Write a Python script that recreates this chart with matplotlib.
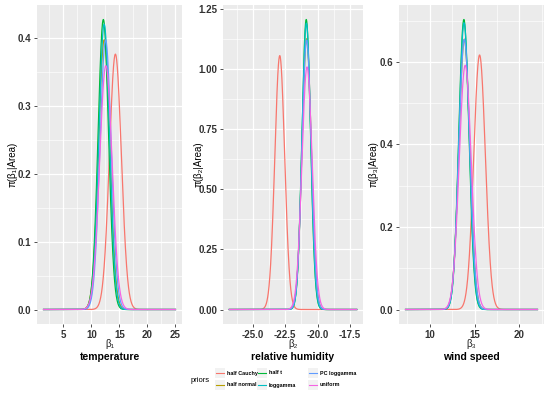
import numpy as np
import matplotlib
matplotlib.use("Agg")
import matplotlib.pyplot as plt
from matplotlib.lines import Line2D
from matplotlib.ticker import MultipleLocator, FormatStrFormatter

priors = ["half Cauchy", "half normal", "half t", "loggamma", "PC loggamma", "uniform"]
colors = ["#F8766D", "#B79F00", "#00BA38", "#00BFC4", "#619CFF", "#F564E3"]

# panel 1: temperature
p1_range = [1.5, 25.0]
p1_mode = [14.3, 12.3, 12.15, 12.3, 12.55, 12.6]
p1_peak = [0.376, 0.397, 0.427, 0.420, 0.397, 0.359]
# panel 2: relative humidity
p2_range = [-26.8, -17.0]
p2_mode = [-22.92, -20.85, -20.88, -20.87, -20.85, -20.82]
p2_peak = [1.055, 1.125, 1.205, 1.19, 1.12, 1.008]
# panel 3: wind speed
p3_range = [7.3, 22.0]
p3_mode = [15.55, 13.85, 13.8, 13.82, 13.85, 13.95]
p3_peak = [0.617, 0.655, 0.703, 0.695, 0.655, 0.592]

titles = ["temperature", "relative humidity", "wind speed"]
xsyms = ["β₁", "β₂", "β₃"]
ylabs = ["π(β₁|Area)", "π(β₂|Area)", "π(β₃|Area)"]

plt.rcParams['font.family'] = ['Liberation Sans', 'DejaVu Sans']

fig = plt.figure(figsize=(5.5, 3.95), dpi=100)
W, H = 550, 395
boxes = [(37, 182), (223, 363), (399, 544)]
ylab_x = [13, 199, 374]
top, bottom = 5, 324

panels = [
    (p1_range, p1_mode, p1_peak, 5, 2.5, 0.1, 0.05, "%.1f", "%d"),
    (p2_range, p2_mode, p2_peak, 2.5, 1.25, 0.25, 0.125, "%.2f", "%.1f"),
    (p3_range, p3_mode, p3_peak, 5, 2.5, 0.2, 0.1, "%.1f", "%d"),
]

for i, (rng, modes, peaks, xmaj, xmin_, ymaj, ymin_, yfmt, xfmt) in enumerate(panels):
    l, r = boxes[i]
    ax = fig.add_axes([l / W, 1 - bottom / H, (r - l) / W, (bottom - top) / H])
    ax.set_facecolor("#EBEBEB")
    for s in ax.spines.values():
        s.set_visible(False)
    x = np.linspace(rng[0], rng[1], 800)
    for m, h, c in zip(modes, peaks, colors):
        sd = 1.0 / (h * np.sqrt(2 * np.pi))
        y = h * np.exp(-0.5 * ((x - m) / sd) ** 2)
        ax.plot(x, y, color=c, lw=0.9)
    span = rng[1] - rng[0]
    ax.set_xlim(rng[0] - 0.05 * span, rng[1] + 0.05 * span)
    ym = max(peaks)
    ax.set_ylim(-0.05 * ym, ym * 1.05)
    ax.xaxis.set_major_locator(MultipleLocator(xmaj))
    ax.xaxis.set_minor_locator(MultipleLocator(xmin_))
    ax.yaxis.set_major_locator(MultipleLocator(ymaj))
    ax.yaxis.set_minor_locator(MultipleLocator(ymin_))
    ax.yaxis.set_major_formatter(FormatStrFormatter(yfmt))
    ax.xaxis.set_major_formatter(FormatStrFormatter(xfmt))
    ax.grid(which="major", color="white", lw=0.9)
    ax.grid(which="minor", color="white", lw=0.45)
    ax.set_axisbelow(True)
    ax.tick_params(which="major", length=2.5, width=0.6, color="#333333", labelsize=7,
                   labelcolor="#333333", pad=1.5)
    ax.tick_params(which="minor", length=0)
    for lab in ax.get_xticklabels() + ax.get_yticklabels():
        lab.set_fontweight("bold")
    cx = (l + r) / 2 / W
    fig.text(cx, 1 - 344 / H, xsyms[i], ha="center", va="center", fontsize=7,
             color="#222222")
    fig.text(cx, 1 - 357 / H, titles[i], ha="center", va="center", fontsize=7.5,
             fontweight="bold")
    fig.text(ylab_x[i] / W, 1 - ((top + bottom) / 2) / H, ylabs[i], ha="center",
             va="center", rotation=90, fontsize=7)

# legend
fig.text(200 / W, 1 - 380 / H, "priors", ha="center", va="center", fontsize=5.5)
cols = [216, 258, 309]
rows = [373, 385]
for k, (name, c) in enumerate(zip(priors, colors)):
    cx0 = cols[k // 2]
    ry = rows[k % 2]
    fig.patches.append(matplotlib.patches.Rectangle(((cx0 - 1) / W, 1 - (ry + 5) / H), 10 / W, 10 / H,
                                                    transform=fig.transFigure, facecolor="#F2F2F2",
                                                    edgecolor="none"))
    fig.add_artist(Line2D([cx0 / W, (cx0 + 8) / W], [1 - ry / H, 1 - ry / H], color=c, lw=0.8,
                          transform=fig.transFigure))
    fig.text((cx0 + 11) / W, 1 - ry / H, name, ha="left", va="center", fontsize=3.9,
             fontweight="bold")

fig.savefig("out.png", dpi=100)
